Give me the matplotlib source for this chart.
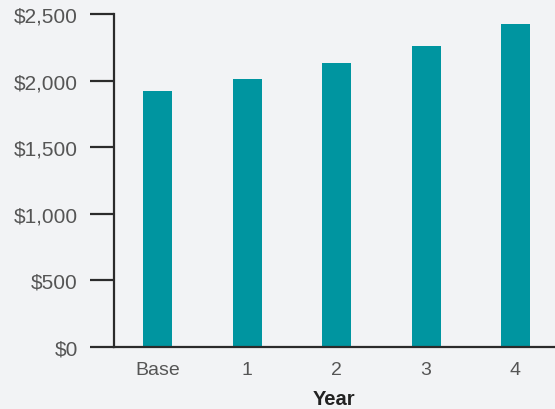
import matplotlib.pyplot as plt

years = ['Base', '1', '2', '3', '4']
values = [1922, 2012, 2132, 2260, 2425]
yticks = [0, 500, 1000, 1500, 2000, 2500]

bg = '#f2f3f5'
bar_color = '#0095a0'
axis_color = '#2b2b2b'
label_color = '#555555'

plt.rcParams['font.family'] = ['Liberation Sans', 'DejaVu Sans']

fig = plt.figure(figsize=(5.55, 4.10), dpi=100, facecolor=bg)
ax = fig.add_axes([0.2054, 0.1512, 0.7946, 0.8122], facecolor=bg)

x = list(range(len(years)))
ax.bar(x, values, width=0.324, color=bar_color)

ax.set_xlim(-0.491, 4.442)
ax.set_ylim(0, 2500)
ax.set_yticks(yticks)
ax.set_yticklabels(['${:,}'.format(v) for v in yticks])
ax.set_xticks(x)
ax.set_xticklabels(years)

for side in ['top', 'right']:
    ax.spines[side].set_visible(False)
for side in ['left', 'bottom']:
    ax.spines[side].set_color(axis_color)
    ax.spines[side].set_linewidth(1.6)

ax.tick_params(axis='y', length=17, width=1.6, color=axis_color,
               labelsize=15, labelcolor=label_color, pad=9)
ax.tick_params(axis='x', length=0, labelsize=14, labelcolor=label_color, pad=10)

ax.set_xlabel('Year', fontsize=14.5, fontweight='bold', color='#222222', labelpad=8)

fig.savefig('out.png', dpi=100, facecolor=bg)
